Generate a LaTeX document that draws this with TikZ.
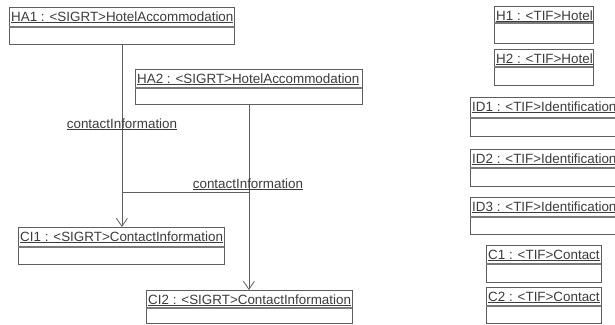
\documentclass[tikz,border=0pt]{standalone}
\usepackage{fontspec}
\setmainfont{Liberation Sans}
\usetikzlibrary{arrows.meta}
\definecolor{ln}{HTML}{5E5E5E}
\definecolor{sp}{HTML}{7A7A7A}
\definecolor{tx}{HTML}{3C3C3C}
\tikzset{
  objbox/.style={draw=ln, line width=0.8pt, rectangle, inner sep=0pt},
  objtitle/.style={anchor=base west, inner sep=0pt, text=tx, font=\fontsize{13.4}{15}\selectfont},
  rolelabel/.style={anchor=base, inner sep=0pt, text=tx, font=\fontsize{13.4}{15}\selectfont},
  sepline/.style={draw=sp, line width=0.6pt},
  assoc/.style={draw=ln, line width=0.8pt},
  nav/.style={assoc, -{Straight Barb[length=8pt,width=11pt,line width=0.8pt]}},
}
% name, x1, y1, x2, ysep, y2, text
\newcommand{\umlobject}[7]{%
  \node[objbox, anchor=north west, minimum width={#4pt-#2pt}, minimum height={#6pt-#3pt}] (#1) at (#2,#3) {};
  \draw[sepline] (#2,#5) -- (#4,#5);
  \draw[sepline] (#2,#5+1.6) -- (#4,#5+1.6);
  \node[objtitle] (#1t) at (#2+2,#3+14) {\underline{#7}};
}
\begin{document}
\begin{tikzpicture}[x=1pt,y=-1pt]
  \useasboundingbox (0,0) rectangle (615,324);
  \clip (0,0) rectangle (615,324);
  \fill[white] (0,0) rectangle (615,324);
  % left group
  \umlobject{HA1}{9}{7}{234}{26}{44}{HA1 : <SIGRT>HotelAccommodation}
  \umlobject{HA2}{135}{69}{362}{87}{104}{HA2 : <SIGRT>HotelAccommodation}
  \umlobject{CI1}{18}{227}{224}{246}{264}{CI1 : <SIGRT>ContactInformation}
  \umlobject{CI2}{146}{290}{352}{307}{323}{CI2 : <SIGRT>ContactInformation}
  % right column
  \umlobject{H1}{494}{6}{593}{22}{43}{H1 : <TIF>Hotel}
  \umlobject{H2}{494}{49}{593}{66}{85}{H2 : <TIF>Hotel}
  \umlobject{ID1}{470}{97}{625}{117}{136}{ID1 : <TIF>Identification}
  \umlobject{ID2}{470}{149}{625}{167}{186}{ID2 : <TIF>Identification}
  \umlobject{ID3}{470}{197}{625}{216}{234}{ID3 : <TIF>Identification}
  \umlobject{C1}{486}{245}{601}{263}{282}{C1 : <TIF>Contact}
  \umlobject{C2}{486}{287}{601}{305}{323}{C2 : <TIF>Contact}
  % connectors
  \coordinate (yjoin) at (0,192);
  \draw[nav] (HA1.south) -- (HA1.south |- CI1.north);
  \draw[nav] (HA2.south) -- (HA2.south |- CI2.north);
  \draw[assoc] (HA1.south |- yjoin) -- (HA2.south |- yjoin);
  % role labels
  \node[rolelabel] (lab1) at (122,128) {\underline{contactInformation}};
  \node[rolelabel] (lab2) at (248,188) {\underline{contactInformation}};
\end{tikzpicture}
\end{document}
